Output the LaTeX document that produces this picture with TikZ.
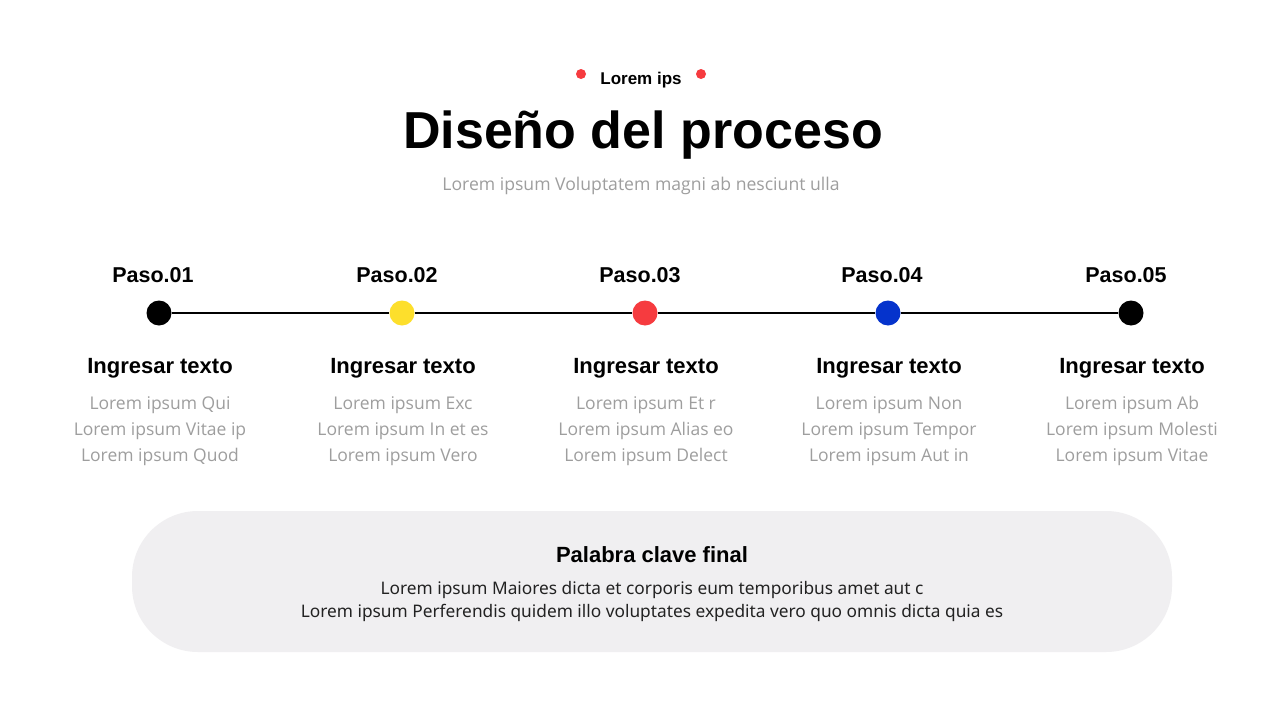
\documentclass[tikz,border=0pt]{standalone}
\usepackage{fontspec}
\usepackage{xcolor}
\setmainfont{Liberation Sans}
\newfontfamily\bodyfont{Open Sans}
\newfontfamily\notefont{Noto Sans}
\definecolor{dotred}{HTML}{F63B3F}
\definecolor{dotyellow}{HTML}{FDDF2C}
\definecolor{dotblue}{HTML}{0533CC}
\definecolor{lightgray}{HTML}{9E9E9E}
\definecolor{boxgray}{HTML}{F0EFF1}
\definecolor{textdark}{HTML}{222222}

\begin{document}
\begin{tikzpicture}[x=1pt,y=-1pt]
\tikzset{
  pasolabel/.style={font=\fontsize{21.5}{25}\selectfont\bfseries},
  stepdot/.style={circle,inner sep=0pt,minimum size=25pt},
  stephead/.style={font=\fontsize{22}{26}\selectfont\bfseries},
  steptext/.style={align=center,text=lightgray,font=\bodyfont\fontsize{17.5}{26}\selectfont}
}
\useasboundingbox[fill=white] (0,0) rectangle (1280,720);

% header
\fill[dotred] (581,74) circle(5);
\fill[dotred] (701,74) circle(5);
\node[font=\fontsize{17}{20}\selectfont\bfseries] (tag) at (641,80) {Lorem ips};
\node[font=\fontsize{52}{60}\selectfont\bfseries] (title) at (643,135) {Diseño del proceso};
\node[text=lightgray,font=\bodyfont\fontsize{17.6}{20}\selectfont] (sub) at (641,186) {Lorem ipsum Voluptatem magni ab nesciunt ulla};

% steps
\foreach \n/\px/\dx/\col/\la/\lb/\lc in {
  1/153/159/black/Qui/Vitae ip/Quod,
  2/397/402/dotyellow/Exc/In et es/Vero,
  3/640/645/dotred/Et r/Alias eo/Delect,
  4/882/888/dotblue/Non/Tempor/Aut in,
  5/1126/1131/black/Ab/Molesti/Vitae}{
  \node[pasolabel] (p\n) at (\px,275) {Paso.0\n};
  \node[stepdot,fill=\col] (d\n) at (\dx,313) {};
  \node[stephead] (h\n) at (\dx+1,368) {Ingresar texto};
  \node[steptext] (t\n) at (\dx+1,431) {Lorem ipsum \la\\Lorem ipsum \lb\\Lorem ipsum \lc};
}
\foreach \a/\b in {1/2,2/3,3/4,4/5}{\draw[line width=2pt] (d\a) -- (d\b);}

% closing box
\node[fill=boxgray,rounded corners=66pt,minimum width=1040pt,minimum height=141pt] (box) at (652,581.5) {};
\node[font=\fontsize{22}{24}\selectfont\bfseries] (kw) at (652,555) {Palabra clave final};
\node[align=center,text=textdark,font=\notefont\fontsize{17.3}{23}\selectfont] (note) at (652,601) {Lorem ipsum Maiores dicta et corporis eum temporibus amet aut c\\Lorem ipsum Perferendis quidem illo voluptates expedita vero quo omnis dicta quia es};
\end{tikzpicture}
\end{document}
